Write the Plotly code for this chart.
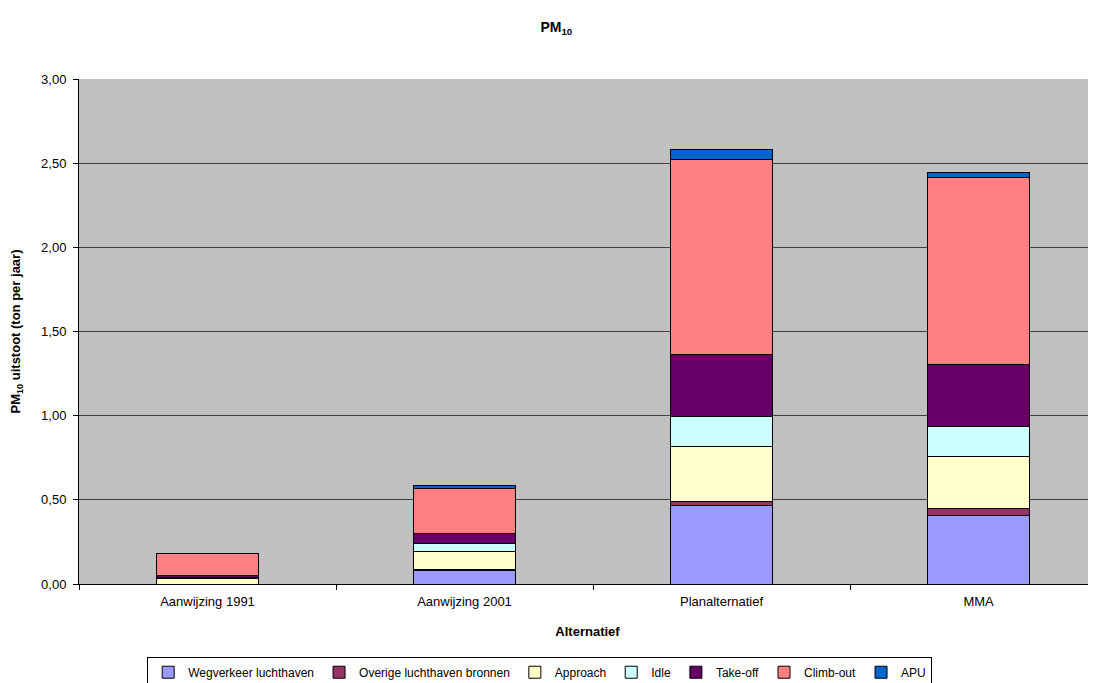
import plotly.graph_objects as go

alternatieven = ["Aanwijzing 1991", "Aanwijzing 2001", "Planalternatief", "MMA"]

wegverkeer = [0.0, 0.081, 0.469, 0.404]
overige = [0.0, 0.003, 0.024, 0.043]
approach = [0.034, 0.110, 0.321, 0.309]
idle = [0.004, 0.044, 0.182, 0.181]
take_off = [0.014, 0.065, 0.370, 0.368]
climb_out = [0.131, 0.263, 1.153, 1.111]
apu = [0.0, 0.022, 0.063, 0.030]

series = [
    ("Wegverkeer luchthaven", wegverkeer, "#9999FF"),
    ("Overige luchthaven bronnen", overige, "#993366"),
    ("Approach", approach, "#FFFFCC"),
    ("Idle", idle, "#CCFFFF"),
    ("Take-off", take_off, "#660066"),
    ("Climb-out", climb_out, "#FF8080"),
    ("APU", apu, "#0066CC"),
]

FONT = "Liberation Sans, Arial, sans-serif"

fig = go.Figure()
for name, vals, color in series:
    fig.add_trace(go.Bar(
        x=alternatieven,
        y=vals,
        name=name,
        marker=dict(color=color, line=dict(color="black", width=1)),
    ))

# page body has an 8px margin, so the figure is drawn 8px smaller
fig.update_layout(
    barmode="stack",
    bargap=0.6,
    width=1088,
    height=675,
    separators=",.",
    paper_bgcolor="white",
    plot_bgcolor="#C0C0C0",
    font=dict(family=FONT, size=13, color="black"),
    margin=dict(l=71, r=0, t=71, b=99, autoexpand=False),
    title=dict(
        text="<b>PM<sub>10</sub></b>",
        x=0.504, xanchor="center", y=0.972, yanchor="middle",
        font=dict(size=14),
    ),
    legend=dict(
        orientation="h",
        x=0.453, xanchor="center",
        y=-0.144, yanchor="top",
        bordercolor="black", borderwidth=1,
        bgcolor="white",
        font=dict(size=12),
        traceorder="normal",
        itemwidth=30,
        tracegroupgap=0,
    ),
    showlegend=True,
)

fig.update_xaxes(
    range=[-0.5, 3.457],
    showline=True, linecolor="black", linewidth=1,
    ticks="outside", tickson="boundaries", ticklen=5, tickcolor="black",
    ticklabelstandoff=5,
    showgrid=False,
    title=dict(text="<b>Alternatief</b>", font=dict(size=13), standoff=19),
    tickfont=dict(size=13),
)
fig.update_yaxes(
    range=[0, 3.0],
    dtick=0.5,
    tickformat=".2f",
    showline=True, linecolor="black", linewidth=1,
    ticks="outside", ticklen=5, tickcolor="black",
    ticklabelstandoff=4,
    showgrid=True, gridcolor="#404040", gridwidth=1,
    zeroline=False,
    title=dict(text="<b>PM<sub>10</sub> uitstoot (ton per jaar)</b>", font=dict(size=13), standoff=18),
    tickfont=dict(size=13),
)

fig.write_html("out.html")
